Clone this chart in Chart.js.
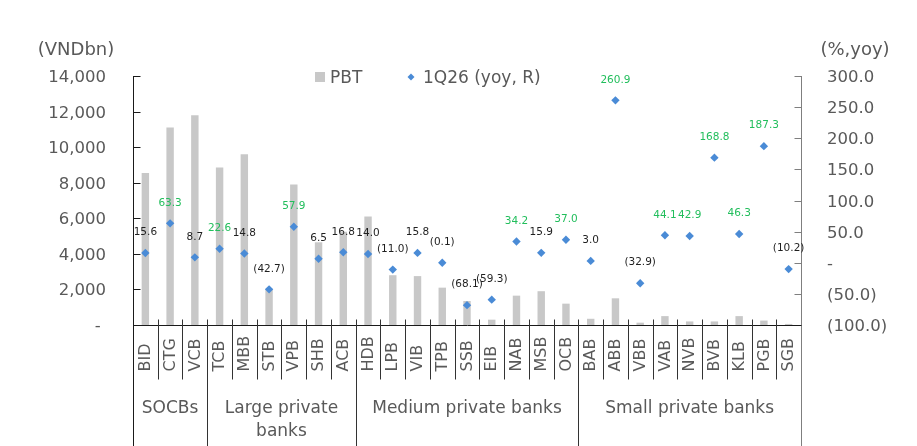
<!DOCTYPE html>
<html>
<head>
<meta charset="utf-8">
<script src="https://cdn.jsdelivr.net/npm/chart.js@4"></script>
<style>
  html, body { margin: 0; padding: 0; background: #ffffff; }
  #wrap { width: 917px; height: 446px; position: relative; }
</style>
</head>
<body>
<div id="wrap"><canvas id="c" width="917" height="446"></canvas></div>
<script>
// ---- data ----
const categories = ["BID","CTG","VCB","TCB","MBB","STB","VPB","SHB","ACB","HDB","LPB","VIB","TPB","SSB","EIB","NAB","MSB","OCB","BAB","ABB","VBB","VAB","NVB","BVB","KLB","PGB","SGB"];
const pbt = [8550, 11100, 11800, 8850, 9600, 2000, 7900, 4650, 5250, 6100, 2800, 2750, 2100, 1350, 300, 1650, 1900, 1200, 350, 1500, 130, 500, 200, 200, 500, 250, 60];
const yoy = [15.6, 63.3, 8.7, 22.6, 14.8, -42.7, 57.9, 6.5, 16.8, 14.0, -11.0, 15.8, -0.1, -68.1, -59.3, 34.2, 15.9, 37.0, 3.0, 260.9, -32.9, 44.1, 42.9, 168.8, 46.3, 187.3, -10.2];
const groupNames = [["SOCBs"], ["Large private", "banks"], ["Medium private banks"], ["Small private banks"]];
const groupSizes = [3, 6, 9, 9];
const leftTicks = [0, 2000, 4000, 6000, 8000, 10000, 12000, 14000];
const rightTicks = [-100, -50, 0, 50, 100, 150, 200, 250, 300];
const seriesNames = ["PBT", "1Q26 (yoy, R)"];

const FONT = "'DejaVu Sans', Verdana, sans-serif";
const TXT = "#595959";
const BAR = "#C8C8C8";
const DOT = "#4A8BD6";
const GREEN = "#22BE5C";

function fmtLeft(v) { return v === 0 ? "- " : v.toLocaleString("en-US"); }
function fmtRight(v) {
  if (v === 0) return "-";
  if (v < 0) return "(" + Math.abs(v).toFixed(1) + ")";
  return v.toFixed(1);
}

const decor = {
  id: "decor",
  afterDraw(chart) {
    const ctx = chart.ctx;
    const x = chart.scales.x, y = chart.scales.y, y1 = chart.scales.y1;
    const area = chart.chartArea;
    const L = Math.round(area.left) + 0.5, R = Math.round(area.right) + 0.5;
    const T = area.top, B = Math.round(area.bottom) + 0.5;
    const H = chart.height;
    ctx.save();
    // left axis + inside ticks + labels
    ctx.strokeStyle = "#1a1a1a"; ctx.lineWidth = 1;
    ctx.beginPath(); ctx.moveTo(L, T); ctx.lineTo(L, H); ctx.stroke();
    ctx.fillStyle = TXT; ctx.font = "16.5px " + FONT; ctx.textBaseline = "middle";
    leftTicks.forEach(v => {
      const py = Math.round(y.getPixelForValue(v)) + 0.5;
      ctx.beginPath(); ctx.moveTo(L, py); ctx.lineTo(L + 7, py); ctx.stroke();
      ctx.textAlign = "right"; ctx.fillText(fmtLeft(v), area.left - 27, py + 1.5);
    });
    // right axis + inside ticks + labels
    ctx.strokeStyle = "#7f7f7f";
    ctx.beginPath(); ctx.moveTo(R, T); ctx.lineTo(R, H); ctx.stroke();
    rightTicks.forEach(v => {
      const py = Math.round(y1.getPixelForValue(v)) + 0.5;
      ctx.beginPath(); ctx.moveTo(R - 7, py); ctx.lineTo(R, py); ctx.stroke();
      ctx.textAlign = "left"; ctx.fillText(fmtRight(v), area.right + 26, py + 1.5);
    });
    // bottom axis
    ctx.strokeStyle = "#1a1a1a";
    ctx.beginPath(); ctx.moveTo(L, B); ctx.lineTo(R, B); ctx.stroke();
    // separators
    const n = categories.length;
    const step = (x.getPixelForValue(1) - x.getPixelForValue(0));
    const groupEdges = new Set();
    let acc = 0; groupSizes.forEach(s => { acc += s; groupEdges.add(acc); });
    ctx.strokeStyle = "#333333";
    for (let i = 1; i < n; i++) {
      const px = Math.round(x.getPixelForValue(i) - step / 2) + 0.5;
      const bottom = groupEdges.has(i) ? H : B + 54;
      ctx.beginPath(); ctx.moveTo(px, B - 6); ctx.lineTo(px, bottom); ctx.stroke();
    }
    // category labels (rotated, bottom-aligned)
    ctx.fillStyle = TXT;
    ctx.font = "16px " + FONT;
    ctx.textAlign = "left"; ctx.textBaseline = "middle";
    categories.forEach((c, i) => {
      const px = x.getPixelForValue(i);
      ctx.save(); ctx.translate(px + 0.5, B + 46); ctx.rotate(-Math.PI / 2);
      ctx.fillText(c, 0, 0); ctx.restore();
    });
    // group labels
    ctx.font = "17px " + FONT; ctx.textAlign = "center";
    let start = 0;
    groupSizes.forEach((s, g) => {
      const cx = (x.getPixelForValue(start) + x.getPixelForValue(start + s - 1)) / 2;
      groupNames[g].forEach((line, k) => ctx.fillText(line, cx, B + 83 + k * 23));
      start += s;
    });
    // data labels
    ctx.font = "10.5px " + FONT; ctx.textAlign = "center"; ctx.textBaseline = "middle";
    const meta = chart.getDatasetMeta(0);
    meta.data.forEach((pt, i) => {
      const v = yoy[i];
      ctx.fillStyle = v > 20 ? GREEN : "#1f1f1f";
      ctx.fillText(fmtRight(v), pt.x, pt.y - 20.5);
    });
    // axis titles
    ctx.fillStyle = TXT; ctx.font = "18px " + FONT; ctx.textBaseline = "middle";
    ctx.textAlign = "center"; ctx.fillText("(VNDbn)", 76, 50);
    ctx.fillText("(%,yoy)", 855, 50);
    // legend
    ctx.font = "17px " + FONT; ctx.textAlign = "left";
    ctx.fillStyle = BAR; ctx.fillRect(315, 72, 10, 10);
    ctx.fillStyle = TXT; ctx.fillText(seriesNames[0], 330, 79);
    ctx.fillStyle = DOT;
    ctx.beginPath(); ctx.moveTo(407.5, 77); ctx.lineTo(411, 73.5); ctx.lineTo(414.5, 77); ctx.lineTo(411, 80.5); ctx.closePath(); ctx.fill();
    ctx.fillStyle = TXT; ctx.fillText(seriesNames[1], 423, 79);
    ctx.restore();
  }
};

new Chart(document.getElementById("c"), {
  type: "bar",
  data: {
    labels: categories,
    datasets: [
      { type: "line", label: seriesNames[1], data: yoy, yAxisID: "y1", showLine: false,
        pointStyle: "rectRot", pointRadius: 4.2, pointBorderWidth: 0,
        backgroundColor: DOT, borderColor: DOT, order: 0 },
      { type: "bar", label: seriesNames[0], data: pbt, yAxisID: "y",
        backgroundColor: BAR, barPercentage: 0.3, categoryPercentage: 1, order: 1 }
    ]
  },
  options: {
    responsive: false, animation: false, devicePixelRatio: 1,
    layout: { padding: { top: 76, left: 0, right: 0, bottom: 0 } },
    plugins: { legend: { display: false }, tooltip: { enabled: false } },
    scales: {
      x: { offset: true, grid: { display: false }, border: { display: false },
           ticks: { display: false }, afterFit: s => { s.height = 121; } },
      y: { position: "left", min: 0, max: 14000, grid: { display: false }, border: { display: false },
           ticks: { display: false, stepSize: 2000 },
           afterFit: s => { s.width = 133; } },
      y1: { position: "right", min: -100, max: 300, grid: { display: false }, border: { display: false },
            ticks: { display: false, stepSize: 50 },
            afterFit: s => { s.width = 116; } }
    }
  },
  plugins: [decor]
});
</script>
</body>
</html>
